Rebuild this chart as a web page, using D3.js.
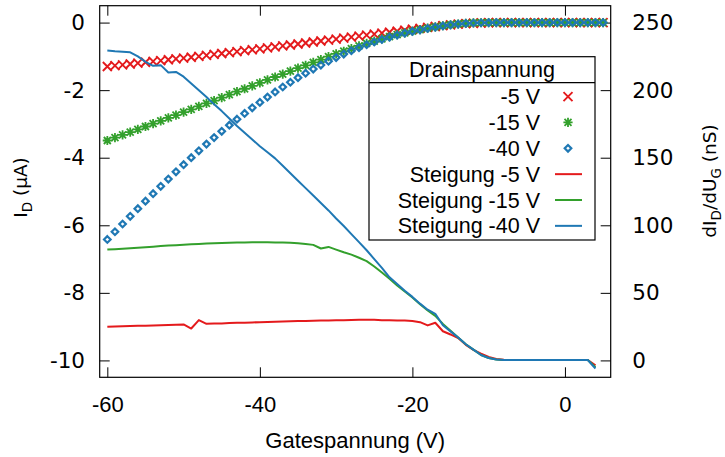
<!DOCTYPE html>
<html><head><meta charset="utf-8">
<script src="https://cdn.jsdelivr.net/npm/d3@7"></script>
<style>body{margin:0;background:#fff} svg{display:block}</style>
</head><body><svg id="c" width="725" height="457"></svg>
<script>
// Gate voltage (V) for the current measurements
const gate = [-60,-59,-58,-57,-56,-55,-54,-53,-52,-51,
  -50,-49,-48,-47,-46,-45,-44,-43,-42,-41,
  -40,-39,-38,-37,-36,-35,-34,-33,-32,-31,
  -30,-29,-28,-27,-26,-25,-24,-23,-22,-21,
  -20,-19,-18,-17,-16,-15,-14,-13,-12,-11,
  -10,-9,-8,-7,-6,-5,-4,-3,-2,-1,
  0,1,2,3,4,5];
// Drain current (µA)
const id5 = [-1.300,-1.275,-1.250,-1.225,-1.200,-1.175,-1.150,-1.125,-1.100,-1.075,
  -1.050,-1.025,-0.998,-0.970,-0.943,-0.915,-0.888,-0.860,-0.832,-0.804,
  -0.776,-0.748,-0.720,-0.691,-0.662,-0.633,-0.604,-0.575,-0.546,-0.517,
  -0.488,-0.459,-0.430,-0.401,-0.372,-0.343,-0.314,-0.285,-0.256,-0.227,
  -0.198,-0.170,-0.142,-0.116,-0.088,-0.066,-0.047,-0.031,-0.019,-0.011,
  -0.006,-0.003,-0.002,-0.001,-0.001,0,0,0,0,0,
  0,0,0,0,0,0];
const id15 = [-3.490,-3.408,-3.326,-3.243,-3.160,-3.076,-2.992,-2.907,-2.822,-2.737,
  -2.652,-2.566,-2.480,-2.394,-2.307,-2.220,-2.133,-2.046,-1.959,-1.872,
  -1.785,-1.698,-1.611,-1.524,-1.437,-1.350,-1.264,-1.178,-1.094,-1.010,
  -0.928,-0.848,-0.769,-0.692,-0.618,-0.547,-0.480,-0.417,-0.358,-0.303,
  -0.253,-0.207,-0.165,-0.127,-0.093,-0.064,-0.041,-0.023,-0.011,-0.004,
  -0.001,0,0,0,0,0,0,0,0,0,
  0,0,0,0,0,0];
const id40 = [-6.420,-6.191,-5.962,-5.734,-5.508,-5.285,-5.065,-4.847,-4.631,-4.418,
  -4.206,-3.998,-3.795,-3.597,-3.405,-3.218,-3.036,-2.860,-2.689,-2.523,
  -2.362,-2.206,-2.054,-1.907,-1.766,-1.630,-1.500,-1.375,-1.256,-1.142,
  -1.034,-0.931,-0.834,-0.742,-0.656,-0.575,-0.500,-0.431,-0.368,-0.312,
  -0.262,-0.216,-0.174,-0.135,-0.099,-0.068,-0.044,-0.025,-0.012,-0.005,
  -0.002,-0.001,0,0,0,0,0,0,0,0,
  0,0,0,0,0,0];
// Slope dI/dU (nS), gate -60 .. 4 V
const d5 = [24.9,25.1,25.2,25.4,25.6,25.7,25.9,26.1,26.2,26.4,
  26.6,23.6,29.8,27.1,27.3,27.4,27.6,27.8,27.9,28.1,
  28.3,28.4,28.6,28.8,28.9,29.1,29.2,29.4,29.5,29.6,
  29.7,29.8,29.9,30.0,30.0,30.0,29.8,29.7,29.6,29.5,
  29.2,28.3,25.9,27.9,21.6,19.2,16.5,11.5,7.8,5.0,
  2.5,1.0,0.4,0.3,0.3,0.3,0.3,0.3,0.3,0.3,
  0.3,0.3,0.3,0.3,-3.7];
const d15 = [82.0,82.3,82.6,83.0,83.4,83.8,84.2,84.6,85.0,85.3,
  85.6,85.9,86.2,86.5,86.7,86.9,87.1,87.2,87.3,87.4,
  87.4,87.4,87.3,87.2,87.0,86.7,86.2,85.5,82.8,84.0,
  82.0,80.0,78.3,76.0,73.5,69.5,65.0,60.5,55.5,51.0,
  46.5,41.5,37.0,33.0,27.0,22.0,17.0,12.0,8.0,4.0,
  1.8,0.6,0.3,0.3,0.3,0.3,0.3,0.3,0.3,0.3,
  0.3,0.3,0.3,0.3,-5.0];
const d40 = [229.3,228.8,228.5,228.0,225.0,221.0,218.0,218.5,213.0,213.5,
  210.0,205.0,200.0,195.0,189.5,184.5,179.0,173.5,168.5,163.5,
  158.5,154.0,149.5,144.0,138.5,133.0,127.5,122.0,116.5,111.0,
  105.0,99.5,93.5,87.5,81.5,75.0,68.5,61.5,56.5,51.5,
  47.0,42.0,37.5,34.5,26.0,21.5,17.0,12.0,8.0,4.0,
  1.8,0.6,0.3,0.3,0.3,0.3,0.3,0.3,0.3,0.3,
  0.3,0.3,0.3,0.3,-6.0];

const xTicks = [-60,-40,-20,0];
const yLTicks = [-10,-8,-6,-4,-2,0];
const yRTicks = [0,50,100,150,200,250];
const legendTitle = "Drainspannung";
const legendLabels = ["-5 V","-15 V","-40 V","Steigung -5 V","Steigung -15 V","Steigung -40 V"];

const RED = "#e41a1c", GREEN = "#33a02c", BLUE = "#1f78b4";
const svg = d3.select("#c");
const L = 99.7, R = 610.7, T = 5.7, B = 377.3;
const x = d3.scaleLinear().domain([-61,6]).range([L,R]);
const yL = d3.scaleLinear().domain([-10.5,0.5]).range([B,T]);
const yR = d3.scaleLinear().domain([-12.5,262.5]).range([B,T]);
const AR = "'Liberation Sans', Arial, sans-serif";
const DV = "'DejaVu Sans', sans-serif";

// axes
const gx = svg.append("g").attr("transform",`translate(0,${B})`)
  .call(d3.axisBottom(x).tickValues(xTicks).tickSizeInner(-10).tickSizeOuter(0).tickPadding(18.6).tickFormat(d=>String(d)));
gx.select(".domain").remove();
gx.selectAll("text").attr("font-family",AR).attr("font-size",22).attr("fill","#000");
const gt = svg.append("g").attr("transform",`translate(0,${T})`)
  .call(d3.axisTop(x).tickValues(xTicks).tickSizeInner(-10).tickSizeOuter(0).tickFormat(""));
gt.select(".domain").remove();
const gl = svg.append("g").attr("transform",`translate(${L},0)`)
  .call(d3.axisLeft(yL).tickValues(yLTicks).tickSizeInner(-10).tickSizeOuter(0).tickPadding(14.7).tickFormat(d=>String(d)));
gl.select(".domain").remove();
gl.selectAll("text").attr("font-family",DV).attr("font-size",21.5).attr("fill","#000");
const gr = svg.append("g").attr("transform",`translate(${R},0)`)
  .call(d3.axisRight(yR).tickValues(yRTicks).tickSizeInner(-10).tickSizeOuter(0).tickPadding(21.6).tickFormat(d=>String(d)));
gr.select(".domain").remove();
gr.selectAll("text").attr("font-family",DV).attr("font-size",21.5).attr("fill","#000");
svg.selectAll(".tick line").attr("stroke","#000").attr("stroke-width",1);

// markers
const symCross = "M-4.5,-4.5L4.5,4.5M-4.5,4.5L4.5,-4.5";
const symStar = "M-4.6,0H4.6M0,-4.6V4.6M-3.5,-3.5L3.5,3.5M-3.5,3.5L3.5,-3.5";
const symDiamond = "M0,-3.3L3.3,0L0,3.3L-3.3,0Z";
function markers(vals, path, color, sw){
  svg.append("g").selectAll("path").data(vals).join("path")
    .attr("d", path)
    .attr("transform",(d,i)=>`translate(${x(gate[i])},${yL(d)})`)
    .attr("fill","none").attr("stroke",color).attr("stroke-width",sw);
}
markers(id5, symCross, RED, 1.9);
markers(id15, symStar, GREEN, 1.8);
markers(id40, symDiamond, BLUE, 2.2);

// slope lines
function slope(vals, color){
  const line = d3.line().x((d,i)=>x(gate[i])).y(d=>yR(d));
  svg.append("path").datum(vals).attr("d",line)
    .attr("fill","none").attr("stroke",color).attr("stroke-width",2).attr("stroke-linejoin","round");
}
slope(d5, RED);
slope(d15, GREEN);
slope(d40, BLUE);

// frame
svg.append("rect").attr("x",L).attr("y",T).attr("width",R-L).attr("height",B-T)
  .attr("fill","none").attr("stroke","#000").attr("stroke-width",1.2);

// legend
const lg = svg.append("g");
lg.append("rect").attr("x",369).attr("y",56.7).attr("width",226).attr("height",183.3)
  .attr("fill","#fff").attr("stroke","#000").attr("stroke-width",1.2);
lg.append("line").attr("x1",369).attr("x2",595).attr("y1",82.7).attr("y2",82.7).attr("stroke","#000").attr("stroke-width",1.2);
lg.append("text").attr("x",482).attr("y",77.3).attr("text-anchor","middle")
  .attr("font-family",AR).attr("font-size",21.5).text(legendTitle);
const legendStyles = [
  {t:"m",d:symCross,c:RED,w:1.9},{t:"m",d:symStar,c:GREEN,w:1.8},{t:"m",d:symDiamond,c:BLUE,w:2.2},
  {t:"l",c:RED},{t:"l",c:GREEN},{t:"l",c:BLUE}];
legendLabels.forEach((lab,i)=>{
  const cy = 96.6 + i*25.85;
  lg.append("text").attr("x",540).attr("y",cy+7.5).attr("text-anchor","end")
    .attr("font-family",AR).attr("font-size",21.5).text(lab);
  const s = legendStyles[i];
  if (s.t==="m") lg.append("path").attr("d",s.d).attr("transform",`translate(568,${cy})`)
    .attr("fill","none").attr("stroke",s.c).attr("stroke-width",s.w);
  else lg.append("line").attr("x1",555).attr("x2",582).attr("y1",cy).attr("y2",cy)
    .attr("stroke",s.c).attr("stroke-width",2);
});

// axis titles
svg.append("text").attr("x",355.2).attr("y",448).attr("text-anchor","middle")
  .attr("font-family",AR).attr("font-size",22).text("Gatespannung (V)");
const tl = svg.append("text").attr("transform","translate(27,187.5) rotate(-90)")
  .attr("text-anchor","middle").attr("font-family",DV).attr("font-size",18.5);
tl.append("tspan").text("I");
tl.append("tspan").attr("dy",5).attr("font-size",13.5).text("D");
tl.append("tspan").attr("dy",-5).text(" (µA)");
const tr = svg.append("text").attr("transform","translate(716,181) rotate(-90)")
  .attr("text-anchor","middle").attr("font-family",DV).attr("font-size",18.5);
tr.append("tspan").text("dI");
tr.append("tspan").attr("dy",5).attr("font-size",13.5).text("D");
tr.append("tspan").attr("dy",-5).text("/dU");
tr.append("tspan").attr("dy",5).attr("font-size",13.5).text("G");
tr.append("tspan").attr("dy",-5).text(" (nS)");
</script></body></html>
